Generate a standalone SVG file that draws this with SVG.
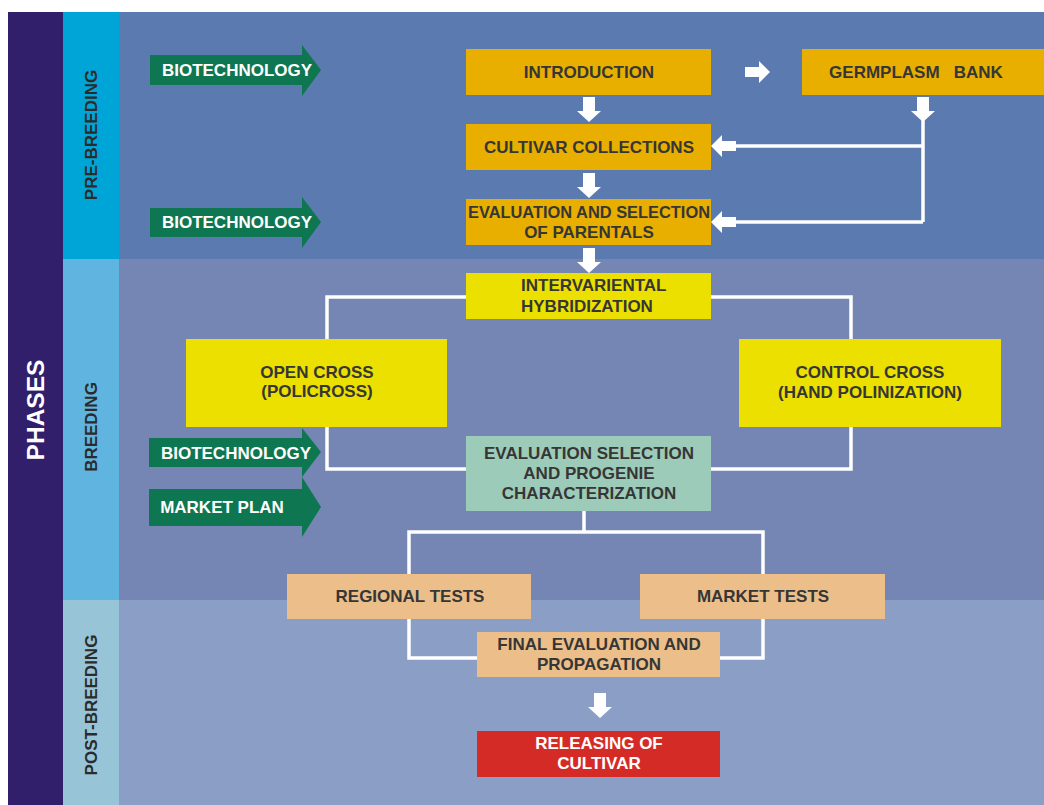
<svg xmlns="http://www.w3.org/2000/svg" xmlns:xlink="http://www.w3.org/1999/xlink" width="1044" height="805" viewBox="0 0 1044 805">
<style>
.t{font-family:"Liberation Sans",Arial,sans-serif;font-weight:bold;font-size:17px;fill:#363636;text-anchor:middle}
.w{fill:#ffffff}
.side{font-family:"Liberation Sans",Arial,sans-serif;font-weight:bold;font-size:17px;fill:#2b2b2b;text-anchor:middle}
.ln{fill:none;stroke:#ffffff;stroke-width:3.5}
.ga{fill:#0e7650}
.orange{fill:#e8ae00}
.yellow{fill:#ebe000}
.teal{fill:#9dcbb9}
.peach{fill:#ebbe8a}
.red{fill:#d52b26}
</style>
<defs>
<path id="dArrow" d="M-6 0H6V14H12L0 25L-12 14H-6Z" fill="#ffffff"/>
</defs>
<rect width="1044" height="805" fill="#ffffff"/>
<g id="bands">
<rect x="8" y="12" width="55" height="793" fill="#311f6c"/>
<rect x="63" y="12" width="56" height="247" fill="#00a5d7"/>
<rect x="63" y="259" width="56" height="341" fill="#5fb5e0"/>
<rect x="63" y="600" width="56" height="205" fill="#97c4d6"/>
<rect x="119" y="12" width="925" height="247" fill="#5b7bb0"/>
<rect x="119" y="259" width="925" height="341" fill="#7586b5"/>
<rect x="119" y="600" width="925" height="205" fill="#8b9fc6"/>
<text transform="translate(44 410) rotate(-90)" font-family="'Liberation Sans',Arial,sans-serif" font-weight="bold" font-size="24.5" fill="#ffffff" text-anchor="middle">PHASES</text>
<text class="side" transform="translate(97 135) rotate(-90)">PRE-BREEDING</text>
<text class="side" transform="translate(97 427) rotate(-90)">BREEDING</text>
<text class="side" transform="translate(97 705) rotate(-90)">POST-BREEDING</text>
</g>
<g id="connectors">
<path d="M745 67H759V61L770 72L759 83V77H745Z" fill="#ffffff"/>
<use xlink:href="#dArrow" x="589" y="97"/>
<use xlink:href="#dArrow" x="589" y="173"/>
<use xlink:href="#dArrow" x="589" y="248"/>
<use xlink:href="#dArrow" x="923" y="97"/>
<use xlink:href="#dArrow" x="600" y="693"/>
<path class="ln" d="M923 120V222M923 146H735M923 222H735"/>
<path d="M711 146L722 135V141H736V151H722V157Z" fill="#ffffff"/>
<path d="M711 222L722 211V217H736V227H722V233Z" fill="#ffffff"/>
<path class="ln" d="M466 297H327V339M711 297H851V339M327 427V469H466M851 427V469H711"/>
<path class="ln" d="M584 511V532M409 574V532H763V574M409 619V658H477M763 619V658H720"/>
</g>
<g id="biotech1"><path class="ga" d="M150 55H302V45L321 70L302 96V85H150Z"/><text class="t w" x="237" y="76">BIOTECHNOLOGY</text></g>
<g id="biotech2"><path class="ga" d="M150 208H302V197L321 222L302 248V237H150Z"/><text class="t w" x="237" y="228">BIOTECHNOLOGY</text></g>
<g id="biotech3"><path class="ga" d="M149 438H302V428L321 452L302 477V467H149Z"/><text class="t w" x="236" y="459">BIOTECHNOLOGY</text></g>
<g id="marketplan"><path class="ga" d="M149 489H302V477L321 507L302 537V526H149Z"/><text class="t w" x="222" y="513">MARKET PLAN</text></g>
<g id="introduction"><rect class="orange" x="466" y="49" width="245" height="46"/><text class="t" x="589" y="78">INTRODUCTION</text></g>
<g id="germplasm"><rect class="orange" x="802" y="49" width="242" height="46"/><text class="t" x="916" y="78" xml:space="preserve">GERMPLASM   BANK</text></g>
<g id="cultivar"><rect class="orange" x="466" y="124" width="245" height="46"/><text class="t" x="589" y="153">CULTIVAR COLLECTIONS</text></g>
<g id="parentals"><rect class="orange" x="466" y="199" width="245" height="46"/><text class="t" x="589" y="218" textLength="242" lengthAdjust="spacingAndGlyphs">EVALUATION AND SELECTION</text><text class="t" x="589" y="238">OF PARENTALS</text></g>
<g id="hybridization"><rect class="yellow" x="466" y="273" width="245" height="46"/><text class="t" x="521" y="291" style="text-anchor:start">INTERVARIENTAL</text><text class="t" x="521" y="312" style="text-anchor:start">HYBRIDIZATION</text></g>
<g id="opencross"><rect class="yellow" x="186" y="339" width="261" height="88"/><text class="t" x="317" y="378">OPEN CROSS</text><text class="t" x="317" y="397">(POLICROSS)</text></g>
<g id="controlcross"><rect class="yellow" x="739" y="339" width="262" height="88"/><text class="t" x="870" y="378">CONTROL CROSS</text><text class="t" x="870" y="398">(HAND POLINIZATION)</text></g>
<g id="progenie"><rect class="teal" x="466" y="436" width="245" height="75"/><text class="t" x="589" y="459">EVALUATION SELECTION</text><text class="t" x="589" y="479">AND PROGENIE</text><text class="t" x="589" y="499">CHARACTERIZATION</text></g>
<g id="regional"><rect class="peach" x="287" y="574" width="244" height="45"/><text class="t" x="410" y="602">REGIONAL TESTS</text></g>
<g id="market"><rect class="peach" x="640" y="574" width="245" height="45"/><text class="t" x="763" y="602">MARKET TESTS</text></g>
<g id="final"><rect class="peach" x="477" y="632" width="243" height="45"/><text class="t" x="599" y="650">FINAL EVALUATION AND</text><text class="t" x="599" y="670">PROPAGATION</text></g>
<g id="releasing"><rect class="red" x="477" y="731" width="243" height="46"/><text class="t w" x="599" y="749">RELEASING OF</text><text class="t w" x="599" y="769">CULTIVAR</text></g>
</svg>
